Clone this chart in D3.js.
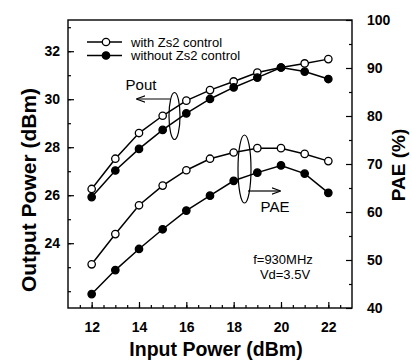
<!DOCTYPE html>
<html><head><meta charset="utf-8">
<script src="https://cdn.jsdelivr.net/npm/d3@7"></script>
<style>body{margin:0;background:#fff}svg{display:block}text{font-family:"Liberation Sans",Arial,sans-serif}</style>
</head><body><svg id="c" width="412" height="361"></svg>
<script>
const inputPower = [12,13,14,15,16,17,18,19,20,21,22];
const poutWith    = [26.26,27.52,28.59,29.31,29.94,30.38,30.74,31.11,31.32,31.49,31.67];
const poutWithout = [25.92,27.03,27.93,28.72,29.41,30.01,30.49,30.90,31.32,31.15,30.84];
const paeWith     = [49.1,55.4,61.4,65.5,68.7,71.1,72.4,73.3,73.3,72.1,70.6];
const paeWithout  = [42.9,47.9,52.3,56.4,60.3,63.4,66.5,68.2,69.7,68.0,64.0];
const xTicks = [12,14,16,18,20,22];
const leftTicks = [24,26,28,30,32];
const rightTicks = [40,50,60,70,80,90,100];
const legendLabels = ["with Zs2 control","without Zs2 control"];

const svg = d3.select("#c");
const L=68,R=352,T=20,B=308;
const x = d3.scaleLinear().domain([11,23]).range([L,R]);
const yL = d3.scaleLinear().domain([21.3,33.3]).range([B,T]);
const yR = d3.scaleLinear().domain([40,100]).range([B,T]);

// frame
svg.append("rect").attr("x",L).attr("y",T).attr("width",R-L).attr("height",B-T)
  .attr("fill","none").attr("stroke","#000").attr("stroke-width",1.4);

function minor(a,b,s){const r=[];for(let v=a;v<=b+1e-9;v+=s)r.push(+v.toFixed(3));return r;}
function styleTicks(g){g.selectAll(".domain").remove();g.selectAll("line").attr("stroke","#000").attr("stroke-width",1.2);}

const gx = svg.append("g").attr("transform",`translate(0,${B})`);
gx.append("g").call(d3.axisTop(x).tickValues(minor(11.5,22.5,0.5)).tickSize(3).tickFormat(""));
gx.append("g").call(d3.axisTop(x).tickValues(xTicks).tickSize(6).tickFormat(""));
styleTicks(gx);
const xl = svg.append("g").attr("transform",`translate(0,${B})`)
  .call(d3.axisBottom(x).tickValues(xTicks).tickSize(0).tickPadding(14));
xl.select(".domain").remove();
xl.selectAll("text").attr("font-size",14).attr("font-weight","bold").attr("fill","#000");

const gl = svg.append("g").attr("transform",`translate(${L},0)`);
gl.append("g").call(d3.axisRight(yL).tickValues(minor(22,33,1)).tickSize(3).tickFormat(""));
gl.append("g").call(d3.axisRight(yL).tickValues(leftTicks).tickSize(6).tickFormat(""));
styleTicks(gl);
const ll = svg.append("g").attr("transform",`translate(${L},0)`)
  .call(d3.axisLeft(yL).tickValues(leftTicks).tickSize(0).tickPadding(8));
ll.select(".domain").remove();
ll.selectAll("text").attr("font-size",14).attr("font-weight","bold").attr("fill","#000");

const gr = svg.append("g").attr("transform",`translate(${R},0)`);
gr.append("g").call(d3.axisLeft(yR).tickValues(minor(45,95,10)).tickSize(3).tickFormat(""));
gr.append("g").call(d3.axisLeft(yR).tickValues(rightTicks).tickSize(6).tickFormat(""));
styleTicks(gr);
const rl = svg.append("g").attr("transform",`translate(${R},0)`)
  .call(d3.axisRight(yR).tickValues(rightTicks).tickSize(0).tickPadding(15));
rl.select(".domain").remove();
rl.selectAll("text").attr("font-size",14).attr("font-weight","bold").attr("fill","#000");

// axis titles
svg.append("text").attr("x",216).attr("y",356).attr("text-anchor","middle")
  .attr("font-size",19.5).attr("font-weight","bold").text("Input Power (dBm)");
svg.append("text").attr("transform",`translate(36,190) rotate(-90)`).attr("text-anchor","middle")
  .attr("font-size",21).attr("font-weight","bold").text("Output Power (dBm)");
svg.append("text").attr("transform",`translate(405,165) rotate(-90)`).attr("text-anchor","middle")
  .attr("font-size",19).attr("font-weight","bold").text("PAE (%)");

// series
const series = [
  {v:poutWith, y:yL, open:true},
  {v:poutWithout, y:yL, open:false},
  {v:paeWith, y:yR, open:true},
  {v:paeWithout, y:yR, open:false}
];
series.forEach(s=>{
  const line = d3.line().x((d,i)=>x(inputPower[i])).y(d=>s.y(d));
  svg.append("path").attr("d",line(s.v)).attr("fill","none").attr("stroke","#000").attr("stroke-width",1.5);
});
series.forEach(s=>{
  svg.append("g").selectAll("circle").data(s.v).join("circle")
    .attr("cx",(d,i)=>x(inputPower[i])).attr("cy",d=>s.y(d)).attr("r",3.7)
    .attr("fill",s.open?"#fff":"#000").attr("stroke","#000").attr("stroke-width",1.3);
});

// legend
legendLabels.forEach((t,i)=>{
  const y = 42 + i*13.5;
  svg.append("line").attr("x1",87).attr("x2",122).attr("y1",y).attr("y2",y).attr("stroke","#000").attr("stroke-width",1.5);
  svg.append("circle").attr("cx",106).attr("cy",y).attr("r",3.7).attr("fill",i===0?"#fff":"#000").attr("stroke","#000").attr("stroke-width",1.3);
  svg.append("text").attr("x",131).attr("y",y+4.5).attr("font-size",13).text(t);
});

// annotations
svg.append("defs").append("marker").attr("id","ah").attr("viewBox","0 0 10 10").attr("refX",9).attr("refY",5)
  .attr("markerWidth",9).attr("markerHeight",9).attr("markerUnits","userSpaceOnUse").attr("orient","auto")
  .append("path").attr("d","M0,1.5 L10,5 L0,8.5").attr("fill","none").attr("stroke","#000").attr("stroke-width",1.3);
svg.append("ellipse").attr("cx",174.5).attr("cy",116).attr("rx",5.5).attr("ry",23.5).attr("fill","none").attr("stroke","#000").attr("stroke-width",1.2);
svg.append("line").attr("x1",170).attr("y1",99).attr("x2",137).attr("y2",99).attr("stroke","#000").attr("stroke-width",1.2).attr("marker-end","url(#ah)");
svg.append("text").attr("x",141).attr("y",90).attr("text-anchor","middle").attr("font-size",15).text("Pout");
svg.append("ellipse").attr("cx",244.5).attr("cy",169).attr("rx",6.5).attr("ry",34).attr("fill","none").attr("stroke","#000").attr("stroke-width",1.2);
svg.append("line").attr("x1",248).attr("y1",191).attr("x2",280).attr("y2",191).attr("stroke","#000").attr("stroke-width",1.2).attr("marker-end","url(#ah)");
svg.append("text").attr("x",275).attr("y",212).attr("text-anchor","middle").attr("font-size",15).text("PAE");
svg.append("text").attr("x",283).attr("y",264).attr("text-anchor","middle").attr("font-size",13).text("f=930MHz");
svg.append("text").attr("x",285).attr("y",279).attr("text-anchor","middle").attr("font-size",13).text("Vd=3.5V");
</script></body></html>
